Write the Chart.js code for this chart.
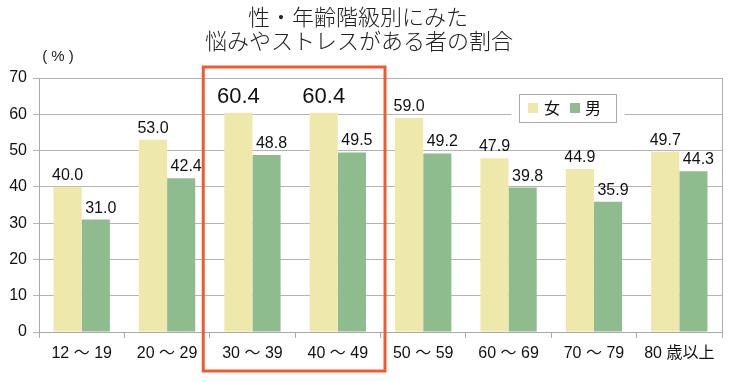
<!DOCTYPE html>
<html><head><meta charset="utf-8">
<script src="https://cdn.jsdelivr.net/npm/chart.js@4"></script>
<style>html,body{margin:0;padding:0;background:#fff;}canvas{display:block;}</style>
</head><body>
<canvas id="c" width="733" height="382"></canvas>
<script>
const categories = ["12 ～ 19","20 ～ 29","30 ～ 39","40 ～ 49","50 ～ 59","60 ～ 69","70 ～ 79","80 歳以上"];
const female = [40.0, 53.0, 60.4, 60.4, 59.0, 47.9, 44.9, 49.7];
const male = [31.0, 42.4, 48.8, 49.5, 49.2, 39.8, 35.9, 44.3];
const seriesNames = ["女","男"];
const titleLines = ["性・年齢階級別にみた","悩みやストレスがある者の割合"];
const unitLabel = "( % )";
const highlight = [2,3];

const FONT = '"Liberation Sans", "Noto Sans CJK JP", sans-serif';
const CJK = '"Noto Sans CJK JP", "Liberation Sans", sans-serif';
const colors = ["#EEE8AA", "#8FBC8F"];

const deco = {
  id: 'deco',
  afterDraw(chart) {
    const ctx = chart.ctx, ca = chart.chartArea;
    ctx.save();
    // right border
    ctx.strokeStyle = '#b0b0b0'; ctx.lineWidth = 1;
    ctx.beginPath(); ctx.moveTo(Math.round(ca.right)+0.5, ca.top); ctx.lineTo(Math.round(ca.right)+0.5, ca.bottom+6); ctx.stroke();
    // title
    ctx.fillStyle = '#222'; ctx.textAlign = 'center'; ctx.textBaseline = 'middle';
    ctx.font = '300 22px ' + CJK;
    ctx.fillText(titleLines[0], 358, 17);
    ctx.fillText(titleLines[1], 359, 41);
    ctx.font = '15px ' + FONT;
    ctx.fillText(unitLabel, 58, 57);
    // data labels
    ctx.fillStyle = '#111'; ctx.textBaseline = 'alphabetic';
    [female, male].forEach((arr, di) => {
      const meta = chart.getDatasetMeta(di);
      meta.data.forEach((el, i) => {
        const big = di === 0 && highlight.includes(i);
        ctx.font = (big ? '22px ' : '16px ') + FONT;
        const x = el.x + (di === 1 ? 5 : 0);
        const y = el.y - (big ? 10 : 7);
        ctx.fillText(arr[i].toFixed(1), x, y);
      });
    });
    // red highlight box
    const xs = chart.scales.x;
    const cw = (ca.right - ca.left) / categories.length;
    const l = xs.getPixelForValue(highlight[0]) - cw/2 - 6.5;
    const r = xs.getPixelForValue(highlight[highlight.length-1]) + cw/2 + 4.5;
    ctx.strokeStyle = '#F25A2E'; ctx.lineWidth = 3;
    ctx.strokeRect(l, 67, r - l, 304);
    // legend
    const lx = 519.5, ly = 94.5, lw = 97, lh = 28;
    ctx.fillStyle = '#fff'; ctx.fillRect(lx - 8, ly, lw + 16, lh);
    ctx.strokeStyle = '#aaa'; ctx.lineWidth = 1; ctx.strokeRect(lx, ly, lw, lh);
    ctx.font = '16px ' + CJK; ctx.textAlign = 'left'; ctx.textBaseline = 'middle';
    const items = [[528, 544], [570, 585]];
    items.forEach((p, i) => {
      ctx.fillStyle = colors[i]; ctx.fillRect(p[0], 103, 10, 10);
      ctx.fillStyle = '#111'; ctx.fillText(seriesNames[i], p[1], 108);
    });
    ctx.restore();
  }
};

new Chart(document.getElementById('c'), {
  type: 'bar',
  data: {
    labels: categories,
    datasets: [
      { label: seriesNames[0], data: female, backgroundColor: colors[0], barPercentage: 1.0, categoryPercentage: 0.66 },
      { label: seriesNames[1], data: male, backgroundColor: colors[1], barPercentage: 1.0, categoryPercentage: 0.66 }
    ]
  },
  options: {
    responsive: false, animation: false,
    layout: { padding: { top: 78, right: 11, left: 0, bottom: 0 } },
    plugins: { legend: { display: false }, title: { display: false }, tooltip: { enabled: false } },
    scales: {
      x: {
        grid: { display: true, drawOnChartArea: false, offset: true, tickLength: 6, color: '#aaa' },
        border: { color: '#aaa' },
        ticks: { font: { size: 16, family: FONT }, color: '#111', padding: 6, maxRotation: 0 },
        afterFit(s) { s.height = 50; }
      },
      y: {
        min: 0, max: 70,
        ticks: { stepSize: 10, font: { size: 16, family: FONT }, color: '#111', padding: 6 },
        grid: { color: '#b4b4b4', tickLength: 6 },
        border: { color: '#aaa' },
        afterFit(s) { s.width = 39; }
      }
    }
  },
  plugins: [deco]
});
</script>
</body></html>
